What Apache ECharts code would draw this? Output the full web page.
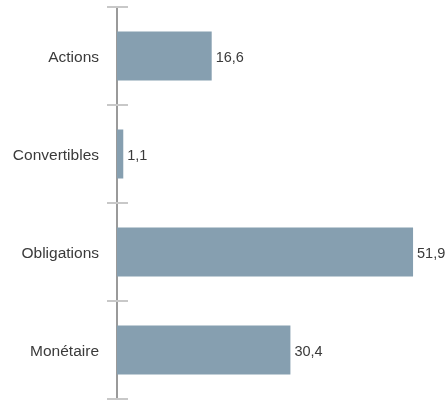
<!DOCTYPE html>
<html><head><meta charset="utf-8">
<script src="https://cdn.jsdelivr.net/npm/echarts@6/dist/echarts.min.js"></script>
<style>html,body{margin:0;padding:0;background:#fff}#c{width:445px;height:401px}</style>
</head><body><div id="c"></div>
<script>
const categories = ["Actions", "Convertibles", "Obligations", "Monétaire"];
const values = [16.6, 1.1, 51.9, 30.4];

const chart = echarts.init(document.getElementById('c'), null, {renderer: 'canvas'});
const font = 'Liberation Sans, Arial, sans-serif';
chart.setOption({
  animation: false,
  grid: {left: 117, right: 0, top: 7, bottom: 2, containLabel: false},
  xAxis: {type: 'value', min: 0, max: 57.5, show: false},
  yAxis: [
    {type: 'category', data: categories, inverse: true,
     axisLine: {show: true, lineStyle: {color: '#9a9a9a', width: 2}},
     axisTick: {show: true, length: 10, lineStyle: {color: '#c8c8c8', width: 2}},
     axisLabel: {color: '#3a3a3a', fontSize: 15.5, fontFamily: font, margin: 18,
       formatter: v => '{a|' + v + '}',
       rich: {a: {color: '#3a3a3a', fontSize: 15.5, fontFamily: font, padding: [4, 0, 0, 0]}}},
     splitLine: {show: false}},
    {type: 'category', data: categories, inverse: true, position: 'left',
     axisLine: {show: false},
     axisTick: {show: true, inside: true, length: 11, lineStyle: {color: '#c8c8c8', width: 2}},
     axisLabel: {show: false}, splitLine: {show: false}}
  ],
  series: [{
    type: 'bar', data: values, barWidth: '50%', yAxisIndex: 0,
    itemStyle: {color: '#869fb0'},
    label: {show: true, position: 'right', distance: 4, color: '#3a3a3a', fontSize: 14.5, fontFamily: font,
      offset: [0, 2],
      formatter: p => String(p.value).replace('.', ',')}
  }]
});
</script></body></html>
